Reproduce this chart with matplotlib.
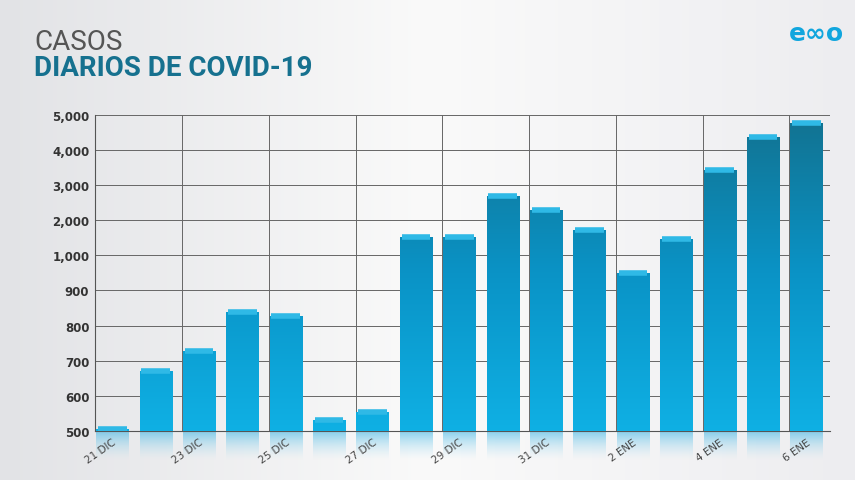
import numpy as np
import matplotlib
matplotlib.use("Agg")
import matplotlib.pyplot as plt
from matplotlib.colors import LinearSegmentedColormap

days = ["21 DIC","22 DIC","23 DIC","24 DIC","25 DIC","26 DIC","27 DIC","28 DIC","29 DIC","30 DIC",
        "31 DIC","1 ENE","2 ENE","3 ENE","4 ENE","5 ENE","6 ENE"]
cases = [505, 672, 728, 838, 828, 530, 553, 1520, 1520, 2700, 2300, 1720, 950, 1460, 3420, 4380, 4780]
tick_vals = [500, 600, 700, 800, 900, 1000, 2000, 3000, 4000, 5000]
tick_labels = ["500","600","700","800","900","1,000","2,000","3,000","4,000","5,000"]
base = 500

pos = np.arange(len(tick_vals), dtype=float)
fwd = lambda v: np.interp(v, tick_vals, pos, left=-1, right=10)
inv = lambda p: np.interp(p, pos, tick_vals)

fig = plt.figure(figsize=(8.55, 4.81), dpi=100)
bg = fig.add_axes([0, 0, 1, 1], zorder=-10)
g = np.linspace(0, 1, 256).reshape(1, -1)
bg.imshow(np.vstack([g]*2), aspect="auto", extent=(0, 1, 0, 1),
          cmap=LinearSegmentedColormap.from_list("b", ["#e2e3e6", "#fafafa", "#ededf0"]))
bg.axis("off")

ax = fig.add_axes([0.111, 0.102, 0.86, 0.657])
ax.set_yscale("function", functions=(fwd, inv))
ax.set_ylim(500, 5000)
ax.set_xlim(-0.4, 16.55)
ax.patch.set_alpha(0)

for v in tick_vals:
    ax.axhline(v, color="#666666", lw=0.7, zorder=1)
for k in range(1, 9):
    ax.axvline(2*k - 0.39, color="#666666", lw=0.7, zorder=1)

cmap = LinearSegmentedColormap.from_list("bar", ["#0fb0e4", "#0a93c6", "#127290"])
grad = np.linspace(0, 1, 256).reshape(-1, 1)
x = np.arange(len(cases))
heights = [c - base for c in cases]
bars = ax.bar(x, heights, width=0.74, bottom=base, color="#0a9fd6", zorder=2)
for b, c in zip(bars, cases):
    im = ax.imshow(grad, aspect="auto", cmap=cmap, origin="lower",
                   extent=(0, 1, 0, 1), transform=ax.transAxes, zorder=3)
    im.set_clip_path(b)
    ax.plot([b.get_x()+0.04, b.get_x()+b.get_width()-0.04], [c, c], color="#2fb9e6",
            lw=4, solid_capstyle="butt", zorder=4)

refl = fig.add_axes([0.111, 0.0, 0.86, 0.102], zorder=-5)
refl.set_xlim(-0.4, 16.55); refl.set_ylim(0, 1); refl.axis("off")
rg = np.linspace(0, 1, 64).reshape(-1, 1)
rc = LinearSegmentedColormap.from_list("r", [(0.7, 0.88, 0.95, 0), (0.2, 0.7, 0.9, 0.6)])
for xi in x:
    refl.imshow(rg, aspect="auto", cmap=rc, origin="lower",
                extent=(xi-0.37, xi+0.37, 0.4, 1))

ax.set_yticks(tick_vals)
ax.set_yticklabels(tick_labels, fontsize=8.5, color="#333333", fontweight="bold")
ax.set_xticks(x[::2])
ax.set_xticklabels(days[::2], rotation=35, ha="right", rotation_mode="anchor",
                   fontsize=7.5, color="#444444")
ax.tick_params(length=0, pad=4)
for s in ax.spines.values():
    s.set_visible(False)
ax.spines["left"].set_visible(True); ax.spines["left"].set_color("#555555")
ax.spines["bottom"].set_visible(True); ax.spines["bottom"].set_color("#555555")

fig.text(0.04, 0.912, "CASOS", fontsize=20, color="#555555", va="center", family="Roboto")
fig.text(0.04, 0.857, "DIARIOS DE COVID-19", fontsize=20, color="#16718f",
         fontweight="bold", va="center", family="Roboto")
fig.text(0.955, 0.93, "e∞o", fontsize=18, color="#11a6de", fontweight="bold",
         ha="center", va="center")

fig.savefig("out.png", dpi=100)
